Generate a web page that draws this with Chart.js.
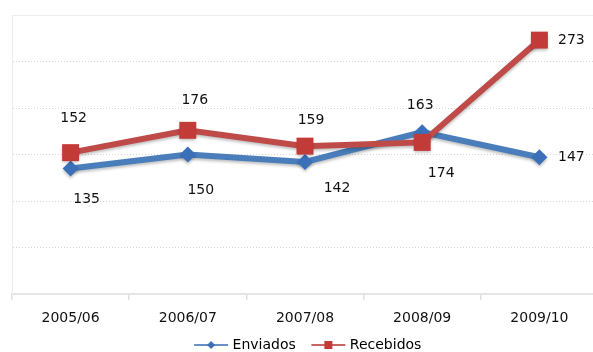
<!DOCTYPE html>
<html lang="pt">
<head>
    <meta charset="UTF-8">
    <title>Enviados / Recebidos</title>
    <script src="https://cdn.jsdelivr.net/npm/chart.js"></script>
    <style>
        html, body {
            margin: 0;
            padding: 0;
            background: #ffffff;
            overflow: hidden;
        }
        #wrap {
            width: 610px;
            height: 352px;
        }
    </style>
</head>
<body>
    <div id="wrap">
        <canvas id="grafico" width="610" height="352"></canvas>
    </div>

    <script>
        // Dados
        var anos = ['2005/06', '2006/07', '2007/08', '2008/09', '2009/10'];
        var enviados = [135, 150, 142, 174, 147];
        var recebidos = [152, 176, 159, 163, 273];
        var escalaY = [0, 300, 50]; // min, max, passo

        // deslocamento dos rótulos em relação ao ponto (px)
        var rotEnviados = [[16, 31], [13, 36], [32, 26], [19, 41], [32, 0]];
        var rotRecebidos = [[3, -34], [7, -30], [6, -26], [-2, -37], [32, 0]];

        var corAzul = '#4a7ebb';
        var corAzulPonto = '#3b70b9';
        var corVermelho = '#be4b48';
        var corVermelhoPonto = '#c23b38';
        var fonte = '"DejaVu Sans", Verdana, sans-serif';

        // ícone da legenda: linha com marcador ao centro
        function iconeLegenda(cor, corPonto, forma) {
            var c = document.createElement('canvas');
            c.width = 44;
            c.height = 14;
            var g = c.getContext('2d');
            var x0 = 9, x1 = 43, mx = 26;
            g.strokeStyle = cor;
            g.globalAlpha = 0.85;
            g.lineWidth = 2;
            g.beginPath();
            g.moveTo(x0, 7);
            g.lineTo(x1, 7);
            g.stroke();
            g.globalAlpha = 1;
            g.fillStyle = corPonto;
            if (forma === 'losango') {
                g.beginPath();
                g.moveTo(mx, 3);
                g.lineTo(mx + 4, 7);
                g.lineTo(mx, 11);
                g.lineTo(mx - 4, 7);
                g.closePath();
                g.fill();
            } else {
                g.fillRect(mx - 4, 3, 8, 8);
            }
            return c;
        }

        // sombra suave por baixo das linhas
        var sombra = {
            id: 'sombra',
            beforeDatasetsDraw: function (chart) {
                var ctx = chart.ctx;
                ctx.save();
                ctx.shadowColor = 'rgba(0,0,0,0.25)';
                ctx.shadowBlur = 3;
                ctx.shadowOffsetY = 2;
            },
            afterDatasetsDraw: function (chart) {
                chart.ctx.restore();
            }
        };

        // moldura superior da área do gráfico
        var moldura = {
            id: 'moldura',
            beforeDatasetsDraw: function (chart) {
                var a = chart.chartArea;
                var ctx = chart.ctx;
                ctx.save();
                ctx.strokeStyle = '#ececec';
                ctx.lineWidth = 1;
                ctx.beginPath();
                ctx.moveTo(a.left, a.top + 0.5);
                ctx.lineTo(a.right, a.top + 0.5);
                ctx.stroke();
                ctx.restore();
            }
        };

        // valores escritos junto a cada ponto
        var rotulos = {
            id: 'rotulos',
            afterDraw: function (chart) {
                var ctx = chart.ctx;
                ctx.save();
                ctx.font = '14px ' + fonte;
                ctx.fillStyle = '#111111';
                ctx.textAlign = 'center';
                ctx.textBaseline = 'middle';
                var desl = [rotEnviados, rotRecebidos];
                chart.data.datasets.forEach(function (ds, i) {
                    chart.getDatasetMeta(i).data.forEach(function (p, j) {
                        ctx.fillText(String(ds.data[j]), p.x + desl[i][j][0], p.y + desl[i][j][1]);
                    });
                });
                ctx.restore();
            }
        };

        var icones = [
            iconeLegenda(corAzul, corAzulPonto, 'losango'),
            iconeLegenda(corVermelho, corVermelhoPonto, 'quadrado')
        ];

        new Chart(document.getElementById('grafico'), {
            type: 'line',
            data: {
                labels: anos,
                datasets: [{
                    label: 'Enviados',
                    data: enviados,
                    order: 2,
                    borderColor: corAzul,
                    borderWidth: 6,
                    pointStyle: 'rectRot',
                    pointRadius: 8,
                    pointBackgroundColor: corAzulPonto,
                    pointBorderWidth: 0,
                    tension: 0
                }, {
                    label: 'Recebidos',
                    data: recebidos,
                    order: 1,
                    borderColor: corVermelho,
                    borderWidth: 6,
                    pointStyle: 'rect',
                    pointRadius: 12,
                    pointBackgroundColor: corVermelhoPonto,
                    pointBorderWidth: 0,
                    tension: 0
                }]
            },
            options: {
                responsive: false,
                animation: false,
                layout: {
                    padding: { top: 15, left: 9, right: 9, bottom: -10 }
                },
                scales: {
                    x: {
                        offset: true,
                        afterFit: function (scale) {
                            scale.height = 34;
                        },
                        grid: {
                            offset: true,
                            drawOnChartArea: false,
                            tickLength: 6,
                            color: '#e0e0e0',
                            lineWidth: 1.5
                        },
                        border: { color: '#e6e6e6', width: 2 },
                        ticks: {
                            color: '#111111',
                            padding: 10,
                            font: { family: fonte, size: 14 }
                        }
                    },
                    y: {
                        min: escalaY[0],
                        max: escalaY[1],
                        ticks: { display: false, stepSize: escalaY[2] },
                        grid: {
                            drawTicks: false,
                            color: '#d6d6d6',
                            lineWidth: 1
                        },
                        border: { display: true, color: '#ececec', width: 1, dash: [1, 2] }
                    }
                },
                plugins: {
                    tooltip: { enabled: false },
                    legend: {
                        position: 'bottom',
                        labels: {
                            usePointStyle: true,
                            pointStyleWidth: 37,
                            padding: 10,
                            color: '#111111',
                            font: { family: fonte, size: 14 },
                            generateLabels: function (chart) {
                                return chart.data.datasets.map(function (ds, i) {
                                    return {
                                        text: ds.label,
                                        pointStyle: icones[i],
                                        fillStyle: ds.borderColor,
                                        strokeStyle: ds.borderColor,
                                        lineWidth: 0,
                                        hidden: false,
                                        datasetIndex: i
                                    };
                                });
                            }
                        }
                    }
                }
            },
            plugins: [moldura, sombra, rotulos]
        });
    </script>
</body>
</html>
